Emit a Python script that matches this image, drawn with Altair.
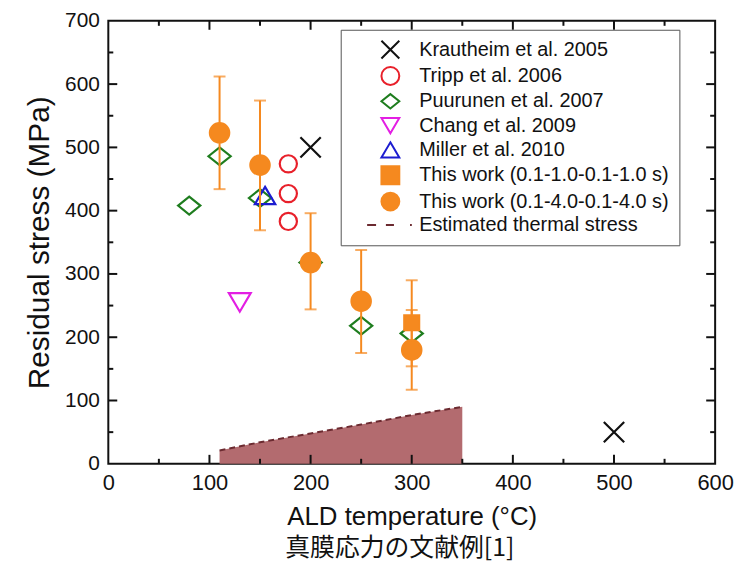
import altair as alt
import pandas as pd

# ---------------- data ----------------
series_names = [
    "Krautheim et al. 2005",
    "Tripp et al. 2006",
    "Puurunen et al. 2007",
    "Chang et al. 2009",
    "Miller et al. 2010",
    "This work (0.1-1.0-0.1-1.0 s)",
    "This work (0.1-4.0-0.1-4.0 s)",
    "Estimated thermal stress",
]

kraut_temp = [200, 500]
kraut_stress = [500, 50]
tripp_temp = [178, 178, 178]
tripp_stress = [474, 427, 383]
puur_temp = [80, 110, 150, 200, 250, 300]
puur_stress = [408, 486, 420, 318, 218, 206]
chang_temp = [130]
chang_stress = [255]
miller_temp = [155]
miller_stress = [424]
tw1_temp = [300]
tw1_stress = [223]
tw1_lo = [154]
tw1_hi = [290]
tw4_temp = [110, 150, 200, 250, 300]
tw4_stress = [523, 472, 318, 257, 180]
tw4_lo = [434, 369, 244, 175, 117]
tw4_hi = [612, 574, 396, 338, 243]
thermal_temp = [110, 150, 200, 250, 300, 350]
thermal_stress = [21, 34, 48, 62, 77, 90]

x_tick_labels = [0, 100, 200, 300, 400, 500, 600]
y_tick_labels = [0, 100, 200, 300, 400, 500, 600, 700]
x_major_ticks = [100, 200, 300, 400, 500]
x_minor_ticks = [50, 150, 250, 350, 450, 550]
y_major_ticks = [100, 200, 300, 400, 500, 600]
y_minor_ticks = [50, 150, 250, 350, 450, 550, 650]

# ---------------- tables ----------------
groups = [
    (series_names[0], kraut_temp, kraut_stress),
    (series_names[1], tripp_temp, tripp_stress),
    (series_names[2], puur_temp, puur_stress),
    (series_names[3], chang_temp, chang_stress),
    (series_names[4], miller_temp, miller_stress),
    (series_names[5], tw1_temp, tw1_stress),
    (series_names[6], tw4_temp, tw4_stress),
]
rows = []
for name, ts, ss in groups:
    for t, s in zip(ts, ss):
        rows.append({"series": name, "temp": t, "stress": s})
points_df = pd.DataFrame(rows)

err_rows = []
for ts, lo, hi in [(tw1_temp, tw1_lo, tw1_hi), (tw4_temp, tw4_lo, tw4_hi)]:
    for t, l, h in zip(ts, lo, hi):
        err_rows.append({"temp": t, "lo": l, "hi": h})
err_df = pd.DataFrame(err_rows)
cap_df = pd.concat([
    err_df[["temp", "lo"]].rename(columns={"lo": "cap"}),
    err_df[["temp", "hi"]].rename(columns={"hi": "cap"}),
])
thermal_df = pd.DataFrame({"temp": thermal_temp, "stress": thermal_stress})

# ---------------- styling ----------------
ORANGE = "#f5891f"
FONT = "Liberation Sans"
W, H = 611, 446

x_scale = alt.Scale(domain=[0, 600], nice=False, zero=True)
y_scale = alt.Scale(domain=[0, 700], nice=False, zero=True)

x_axis = alt.Axis(title="ALD temperature (°C)", values=x_tick_labels, ticks=False,
                  domain=False, grid=False, labelFlush=False, labelOverlap=False,
                  labelFont=FONT, labelFontSize=22, labelColor="#111", labelPadding=9,
                  titleFont=FONT, titleFontSize=26, titleFontWeight="normal",
                  titleColor="#111", titlePadding=10, format="d")
y_axis = alt.Axis(title="Residual stress (MPa)", values=y_tick_labels, ticks=False,
                  domain=False, grid=False, labelFlush=False, labelOverlap=False,
                  labelFont=FONT, labelFontSize=21, labelColor="#111", labelPadding=9,
                  titleFont=FONT, titleFontSize=30, titleFontWeight="normal",
                  titleColor="#111", titlePadding=10, format="d")


def X(field):
    return alt.X(field, type="quantitative", scale=x_scale, axis=x_axis)


def Y(field):
    return alt.Y(field, type="quantitative", scale=y_scale, axis=y_axis)


shape_range = [
    "M-1,-1L1,1M-1,1L1,-1",
    "circle",
    "M-1,0L0,-0.8L1,0L0,0.8Z",
    "M-1,-0.85L1,-0.85L0,0.85Z",
    "M0,-0.85L1,0.85L-1,0.85Z",
    "square",
    "circle",
    "M-2.6,0L-1.6,0M-0.5,0L0.4,0M2.2,0L2.4,0",
]
stroke_range = ["#111111", "#e8202a", "#1e7d1e", "#e31ee3", "#1c1cd0", ORANGE, ORANGE, "#6b2a30"]
fill_range = ["transparent", "transparent", "transparent", "transparent", "transparent",
              ORANGE, ORANGE, "transparent"]

shape_scale = alt.Scale(domain=series_names, range=shape_range)
stroke_scale = alt.Scale(domain=series_names, range=stroke_range)
fill_scale = alt.Scale(domain=series_names, range=fill_range)

leg = alt.Legend(title=None, orient="none", legendX=234, legendY=9, padding=10,
                 symbolSize=324, symbolStrokeWidth=2, symbolOffset=30, labelOffset=19,
                 labelFont=FONT, labelFontSize=20, labelColor="#111", rowPadding=0.5,
                 strokeColor="#555", fillColor="white", labelLimit=500)

base_pts = alt.Chart(points_df)
marker_sizes = [420, 300, 500, 484, 420, 225, 380]


def pts(name, size):
    return base_pts.transform_filter(alt.datum.series == name).mark_point(
        filled=True, size=size, strokeWidth=2.2, opacity=1
    ).encode(
        x=X("temp"), y=Y("stress"),
        fill=alt.Fill("series:N", scale=fill_scale, legend=leg),
        stroke=alt.Stroke("series:N", scale=stroke_scale, legend=leg),
        shape=alt.Shape("series:N", scale=shape_scale, legend=leg),
    )


area = alt.Chart(thermal_df).mark_area(color="#b36b6f", opacity=1).encode(x=X("temp"), y=Y("stress"))
area_line = alt.Chart(thermal_df).mark_line(color="#6b2a30", strokeDash=[6, 4], strokeWidth=2).encode(
    x=X("temp"), y=Y("stress"))

err_rule = alt.Chart(err_df).mark_rule(color=ORANGE, strokeWidth=2).encode(
    x=X("temp"), y=Y("lo"), y2="hi")
err_cap = alt.Chart(cap_df).mark_tick(color=ORANGE, orient="horizontal", size=12, thickness=2).encode(
    x=X("temp"), y=Y("cap"))


def tick_layer(vals, axis, length, side):
    df = pd.DataFrame({"v": vals})
    c = alt.Chart(df).mark_rule(color="#111", strokeWidth=2)
    if axis == "x":
        if side == "bottom":
            return c.encode(x=X("v"), y=alt.value(H), y2=alt.value(H - length))
        return c.encode(x=X("v"), y=alt.value(0), y2=alt.value(length))
    if side == "left":
        return c.encode(y=Y("v"), x=alt.value(0), x2=alt.value(length))
    return c.encode(y=Y("v"), x=alt.value(W), x2=alt.value(W - length))


ticks = [
    tick_layer(x_major_ticks, "x", 9, "bottom"), tick_layer(x_minor_ticks, "x", 5, "bottom"),
    tick_layer(x_major_ticks, "x", 9, "top"), tick_layer(x_minor_ticks, "x", 5, "top"),
    tick_layer(y_major_ticks, "y", 9, "left"), tick_layer(y_minor_ticks, "y", 5, "left"),
    tick_layer(y_major_ticks, "y", 9, "right"), tick_layer(y_minor_ticks, "y", 5, "right"),
]

layers = [area, area_line] + ticks
layers += [pts(series_names[i], marker_sizes[i]) for i in range(5)]
layers += [err_rule, err_cap]
layers += [pts(series_names[5], marker_sizes[5]), pts(series_names[6], marker_sizes[6])]

chart = alt.layer(*layers).properties(
    width=W, height=H,
    autosize=alt.AutoSizeParams(type="none"),
    padding={"left": 101, "top": 11, "right": 20, "bottom": 100},
    title=alt.TitleParams("真膜応力の文献例[1]", orient="bottom", anchor="middle", frame="group",
                          font="Noto Sans CJK JP", fontSize=25, fontWeight="normal",
                          color="#111", offset=7, dx=-12),
    background="white",
).configure_view(stroke="#111", strokeWidth=2)

chart.save("out.html", embed_options={"renderer": "svg", "actions": False})
